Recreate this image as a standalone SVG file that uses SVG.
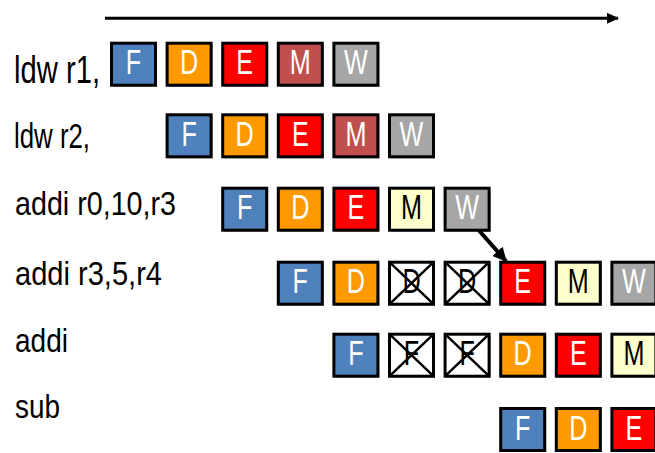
<svg xmlns="http://www.w3.org/2000/svg" width="655" height="453" viewBox="0 0 655 453">
<style>
.lbl{font-family:"Liberation Sans",Arial,sans-serif;fill:#000}
.bx rect.b{stroke:#000;stroke-width:3}
.bx rect.s{fill:#9a9a9a}
.bx text{font-family:"Liberation Sans",Arial,sans-serif;font-size:35px;text-anchor:middle;fill:#fff}
.bx text.k{fill:#000}
.F{fill:#4F81BD}.D{fill:#FF9900}.E{fill:#FF0000}.M{fill:#C0504D}.Y{fill:#FFFFCC}.W{fill:#A6A6A6}.X{fill:#fff}
.x line{stroke:#000;stroke-width:2.5}
.conn line{stroke:#000;fill:none}
</style>
<defs>
<marker id="ah" markerUnits="userSpaceOnUse" markerWidth="12" markerHeight="11" refX="11" refY="5.5" orient="auto"><path d="M0,0 L12,5.5 L0,11 z" fill="#000"/></marker>
<marker id="ah2" markerUnits="userSpaceOnUse" markerWidth="14" markerHeight="14" refX="13" refY="7" orient="auto"><path d="M0,0 L14,7 L0,14 z" fill="#000"/></marker>
</defs>

<g id="labels">
<text class="lbl" x="14" y="82.5" font-size="39" textLength="86" lengthAdjust="spacingAndGlyphs">ldw r1,</text>
<text class="lbl" x="14" y="148.3" font-size="35" textLength="76" lengthAdjust="spacingAndGlyphs">ldw r2,</text>
<text class="lbl" x="15" y="215" font-size="34" textLength="161" lengthAdjust="spacingAndGlyphs">addi r0,10,r3</text>
<text class="lbl" x="15" y="285" font-size="34" textLength="147" lengthAdjust="spacingAndGlyphs">addi r3,5,r4</text>
<text class="lbl" x="15" y="351.5" font-size="34" textLength="53" lengthAdjust="spacingAndGlyphs">addi</text>
<text class="lbl" x="15" y="418.3" font-size="34" textLength="45" lengthAdjust="spacingAndGlyphs">sub</text>
</g>

<!-- row 1 -->
<g id="r1F" class="bx" transform="translate(111.5,43.2)"><rect class="s" x="1.5" y="1.5" width="44" height="42"/><rect class="b F" width="44" height="42"/><text transform="translate(22,31) scale(.72,1)">F</text></g>
<g id="r1D" class="bx" transform="translate(167.1,43.2)"><rect class="s" x="1.5" y="1.5" width="44" height="42"/><rect class="b D" width="44" height="42"/><text transform="translate(22,31) scale(.72,1)">D</text></g>
<g id="r1E" class="bx" transform="translate(222.7,43.2)"><rect class="s" x="1.5" y="1.5" width="44" height="42"/><rect class="b E" width="44" height="42"/><text transform="translate(22,31) scale(.72,1)">E</text></g>
<g id="r1M" class="bx" transform="translate(278.3,43.2)"><rect class="s" x="1.5" y="1.5" width="44" height="42"/><rect class="b M" width="44" height="42"/><text transform="translate(22,31) scale(.72,1)">M</text></g>
<g id="r1W" class="bx" transform="translate(333.9,43.2)"><rect class="s" x="1.5" y="1.5" width="44" height="42"/><rect class="b W" width="44" height="42"/><text transform="translate(22,31) scale(.72,1)">W</text></g>

<!-- row 2 -->
<g id="r2F" class="bx" transform="translate(167.1,114.8)"><rect class="s" x="1.5" y="1.5" width="44" height="42"/><rect class="b F" width="44" height="42"/><text transform="translate(22,31) scale(.72,1)">F</text></g>
<g id="r2D" class="bx" transform="translate(222.7,114.8)"><rect class="s" x="1.5" y="1.5" width="44" height="42"/><rect class="b D" width="44" height="42"/><text transform="translate(22,31) scale(.72,1)">D</text></g>
<g id="r2E" class="bx" transform="translate(278.3,114.8)"><rect class="s" x="1.5" y="1.5" width="44" height="42"/><rect class="b E" width="44" height="42"/><text transform="translate(22,31) scale(.72,1)">E</text></g>
<g id="r2M" class="bx" transform="translate(333.9,114.8)"><rect class="s" x="1.5" y="1.5" width="44" height="42"/><rect class="b M" width="44" height="42"/><text transform="translate(22,31) scale(.72,1)">M</text></g>
<g id="r2W" class="bx" transform="translate(389.5,114.8)"><rect class="s" x="1.5" y="1.5" width="44" height="42"/><rect class="b W" width="44" height="42"/><text transform="translate(22,31) scale(.72,1)">W</text></g>

<!-- row 3 -->
<g id="r3F" class="bx" transform="translate(222.7,188.2)"><rect class="s" x="1.5" y="1.5" width="44" height="42"/><rect class="b F" width="44" height="42"/><text transform="translate(22,31) scale(.72,1)">F</text></g>
<g id="r3D" class="bx" transform="translate(278.3,188.2)"><rect class="s" x="1.5" y="1.5" width="44" height="42"/><rect class="b D" width="44" height="42"/><text transform="translate(22,31) scale(.72,1)">D</text></g>
<g id="r3E" class="bx" transform="translate(333.9,188.2)"><rect class="s" x="1.5" y="1.5" width="44" height="42"/><rect class="b E" width="44" height="42"/><text transform="translate(22,31) scale(.72,1)">E</text></g>
<g id="r3M" class="bx" transform="translate(389.5,188.2)"><rect class="s" x="1.5" y="1.5" width="44" height="42"/><rect class="b Y" width="44" height="42"/><text class="k" transform="translate(22,31) scale(.72,1)">M</text></g>
<g id="r3W" class="bx" transform="translate(445.1,188.2)"><rect class="s" x="1.5" y="1.5" width="44" height="42"/><rect class="b W" width="44" height="42"/><text transform="translate(22,31) scale(.72,1)">W</text></g>

<!-- row 4 -->
<g id="r4F" class="bx" transform="translate(278.3,262.2)"><rect class="s" x="1.5" y="1.5" width="44" height="42"/><rect class="b F" width="44" height="42"/><text transform="translate(22,31) scale(.72,1)">F</text></g>
<g id="r4D" class="bx" transform="translate(333.9,262.2)"><rect class="s" x="1.5" y="1.5" width="44" height="42"/><rect class="b D" width="44" height="42"/><text transform="translate(22,31) scale(.72,1)">D</text></g>
<g id="r4X1" class="bx x" transform="translate(389.5,262.2)"><rect class="s" x="1.5" y="1.5" width="44" height="42"/><rect class="b X" width="44" height="42"/><text class="k" transform="translate(22,31) scale(.72,1)">D</text><line x1="0" y1="0" x2="44" y2="42"/><line x1="44" y1="0" x2="0" y2="42"/></g>
<g id="r4X2" class="bx x" transform="translate(445.1,262.2)"><rect class="s" x="1.5" y="1.5" width="44" height="42"/><rect class="b X" width="44" height="42"/><text class="k" transform="translate(22,31) scale(.72,1)">D</text><line x1="0" y1="0" x2="44" y2="42"/><line x1="44" y1="0" x2="0" y2="42"/></g>
<g id="r4E" class="bx" transform="translate(500.7,262.2)"><rect class="s" x="1.5" y="1.5" width="44" height="42"/><rect class="b E" width="44" height="42"/><text transform="translate(22,31) scale(.72,1)">E</text></g>
<g id="r4M" class="bx" transform="translate(556.3,262.2)"><rect class="s" x="1.5" y="1.5" width="44" height="42"/><rect class="b Y" width="44" height="42"/><text class="k" transform="translate(22,31) scale(.72,1)">M</text></g>
<g id="r4W" class="bx" transform="translate(611.9,262.2)"><rect class="s" x="1.5" y="1.5" width="44" height="42"/><rect class="b W" width="44" height="42"/><text transform="translate(22,31) scale(.72,1)">W</text></g>

<!-- row 5 -->
<g id="r5F" class="bx" transform="translate(333.9,334.2)"><rect class="s" x="1.5" y="1.5" width="44" height="42"/><rect class="b F" width="44" height="42"/><text transform="translate(22,31) scale(.72,1)">F</text></g>
<g id="r5X1" class="bx x" transform="translate(389.5,334.2)"><rect class="s" x="1.5" y="1.5" width="44" height="42"/><rect class="b X" width="44" height="42"/><text class="k" transform="translate(22,31) scale(.72,1)">F</text><line x1="0" y1="0" x2="44" y2="42"/><line x1="44" y1="0" x2="0" y2="42"/></g>
<g id="r5X2" class="bx x" transform="translate(445.1,334.2)"><rect class="s" x="1.5" y="1.5" width="44" height="42"/><rect class="b X" width="44" height="42"/><text class="k" transform="translate(22,31) scale(.72,1)">F</text><line x1="0" y1="0" x2="44" y2="42"/><line x1="44" y1="0" x2="0" y2="42"/></g>
<g id="r5D" class="bx" transform="translate(500.7,334.2)"><rect class="s" x="1.5" y="1.5" width="44" height="42"/><rect class="b D" width="44" height="42"/><text transform="translate(22,31) scale(.72,1)">D</text></g>
<g id="r5E" class="bx" transform="translate(556.3,334.2)"><rect class="s" x="1.5" y="1.5" width="44" height="42"/><rect class="b E" width="44" height="42"/><text transform="translate(22,31) scale(.72,1)">E</text></g>
<g id="r5M" class="bx" transform="translate(611.9,334.2)"><rect class="s" x="1.5" y="1.5" width="44" height="42"/><rect class="b Y" width="44" height="42"/><text class="k" transform="translate(22,31) scale(.72,1)">M</text></g>

<!-- row 6 -->
<g id="r6F" class="bx" transform="translate(500.7,408.5)"><rect class="s" x="1.5" y="1.5" width="44" height="42"/><rect class="b F" width="44" height="42"/><text transform="translate(22,31) scale(.72,1)">F</text></g>
<g id="r6D" class="bx" transform="translate(556.3,408.5)"><rect class="s" x="1.5" y="1.5" width="44" height="42"/><rect class="b D" width="44" height="42"/><text transform="translate(22,31) scale(.72,1)">D</text></g>
<g id="r6E" class="bx" transform="translate(611.9,408.5)"><rect class="s" x="1.5" y="1.5" width="44" height="42"/><rect class="b E" width="44" height="42"/><text transform="translate(22,31) scale(.72,1)">E</text></g>

<g id="connectors" class="conn">
<line x1="105" y1="18.3" x2="618" y2="18.3" stroke-width="3" marker-end="url(#ah)"/>
<line x1="479" y1="230.5" x2="506" y2="261" stroke-width="4" marker-end="url(#ah2)"/>
</g>
</svg>
